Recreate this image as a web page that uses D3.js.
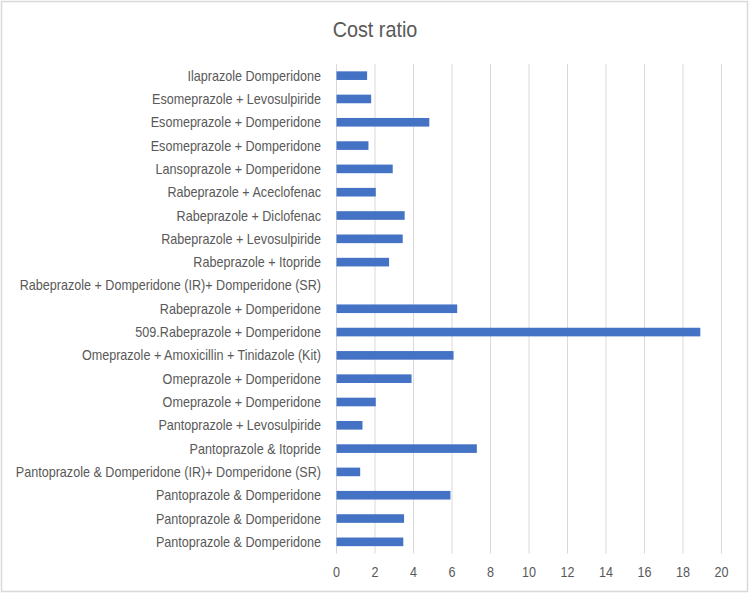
<!DOCTYPE html>
<html>
<head>
<meta charset="utf-8">
<script src="https://cdn.jsdelivr.net/npm/d3@7"></script>
<style>
  body { margin: 0; background: #fff; }
  text { font-family: "Liberation Sans", Arial, sans-serif; fill: #595959; }
</style>
</head>
<body>
<div id="plot"></div>
<script>
// Categories, top to bottom as shown
var drugs = [
	"Ilaprazole Domperidone",
	"Esomeprazole + Levosulpiride",
	"Esomeprazole + Domperidone",
	"Esomeprazole + Domperidone",
	"Lansoprazole + Domperidone",
	"Rabeprazole + Aceclofenac",
	"Rabeprazole + Diclofenac",
	"Rabeprazole + Levosulpiride",
	"Rabeprazole + Itopride",
	"Rabeprazole + Domperidone (IR)+ Domperidone (SR)",
	"Rabeprazole + Domperidone",
	"509.Rabeprazole + Domperidone",
	"Omeprazole + Amoxicillin + Tinidazole (Kit)",
	"Omeprazole + Domperidone",
	"Omeprazole + Domperidone",
	"Pantoprazole + Levosulpiride",
	"Pantoprazole & Itopride",
	"Pantoprazole & Domperidone (IR)+ Domperidone (SR)",
	"Pantoprazole & Domperidone",
	"Pantoprazole & Domperidone",
	"Pantoprazole & Domperidone"
];
var costRatio = [1.59, 1.80, 4.82, 1.66, 2.92, 2.04, 3.54, 3.44, 2.73, 0,
	6.27, 18.9, 6.08, 3.90, 2.04, 1.35, 7.29, 1.23, 5.92, 3.51, 3.47];
var xTicks = [0, 2, 4, 6, 8, 10, 12, 14, 16, 18, 20];

var width = 750, height = 596;
var plot = {left: 336.5, right: 721.5, top: 64, bottom: 553.5};
var squeeze = 0.9;

var svg = d3.select("#plot")
	.append("svg")
	.attr("width", width)
	.attr("height", height);

// Chart border
svg.append("rect")
	.attr("x", 1.5).attr("y", 1.5)
	.attr("width", 746).attr("height", 590)
	.attr("fill", "none")
	.attr("stroke", "#d9d9d9")
	.attr("stroke-width", 1.5);

// Title
svg.append("text")
	.attr("transform", "translate(375,37) scale(" + squeeze + ",1)")
	.attr("text-anchor", "middle")
	.style("font-size", "22px")
	.text("Cost ratio");

var x = d3.scaleLinear()
	.domain([0, 20])
	.range([plot.left, plot.right]);

var y = d3.scaleBand()
	.domain(d3.range(drugs.length))
	.range([plot.top, plot.bottom])
	.paddingInner(0.63)
	.paddingOuter(0.315);

// Gridlines
svg.append("g")
	.selectAll("line")
	.data(xTicks).enter()
	.append("line")
	.attr("x1", function(d){ return x(d); })
	.attr("x2", function(d){ return x(d); })
	.attr("y1", plot.top)
	.attr("y2", plot.bottom)
	.attr("stroke", "#d9d9d9")
	.attr("stroke-width", 1);

// Tick labels
svg.append("g")
	.selectAll("text")
	.data(xTicks).enter()
	.append("text")
	.attr("transform", function(d){ return "translate(" + x(d) + ",577) scale(" + squeeze + ",1)"; })
	.attr("text-anchor", "middle")
	.style("font-size", "14px")
	.text(function(d){ return d; });

// Bars
svg.append("g")
	.selectAll("rect")
	.data(costRatio).enter()
	.append("rect")
	.attr("x", x(0))
	.attr("y", function(d, i){ return y(i); })
	.attr("width", function(d){ return x(d) - x(0); })
	.attr("height", y.bandwidth())
	.attr("fill", "#4472c4");

// Category labels
svg.append("g")
	.selectAll("text")
	.data(drugs).enter()
	.append("text")
	.attr("transform", function(d, i){
		return "translate(321," + (y(i) + y.bandwidth() / 2) + ") scale(" + squeeze + ",1)";
	})
	.attr("text-anchor", "end")
	.attr("dy", "0.36em")
	.style("font-size", "14px")
	.text(function(d){ return d; });
</script>
</body>
</html>
